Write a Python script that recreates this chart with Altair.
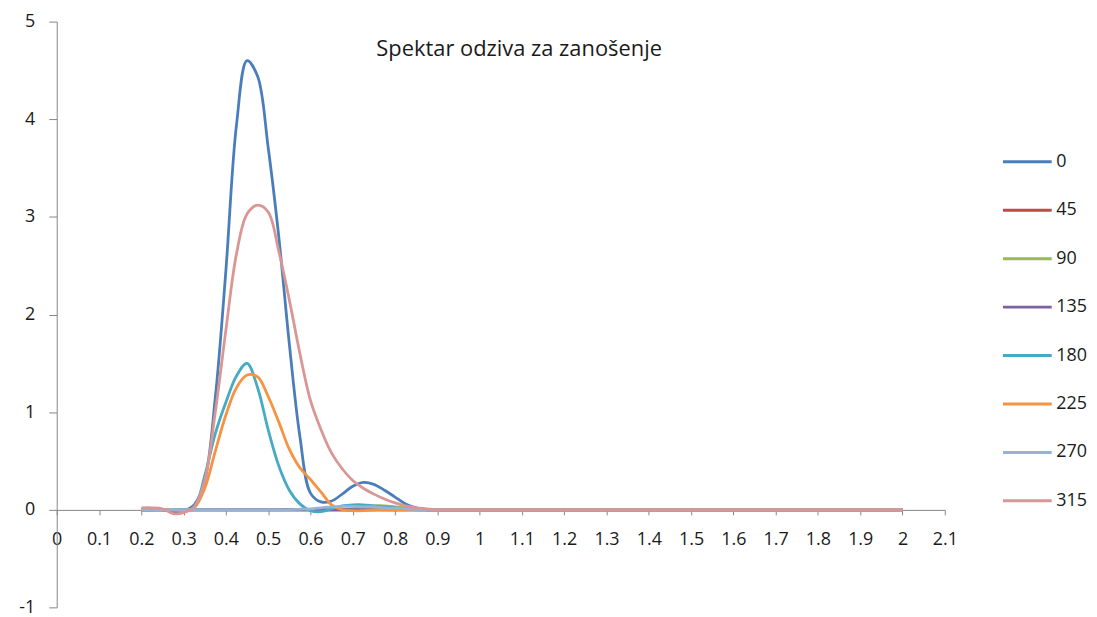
import altair as alt
import pandas as pd

# x positions (period, s)
x_vals = [0.2, 0.225, 0.25, 0.275, 0.3, 0.325, 0.35, 0.375, 0.4, 0.425, 0.45, 0.475,
          0.5, 0.525, 0.55, 0.575, 0.6, 0.625, 0.65, 0.675, 0.7, 0.725, 0.75, 0.775,
          0.8, 0.825, 0.85, 0.875, 0.9, 0.925, 0.95, 0.975, 1.0,
          1.1, 1.2, 1.3, 1.4, 1.5, 1.6, 1.7, 1.8, 1.9, 2.0]

tail = [0.0] * 10

s0 = [0.0, 0.0, 0.0, -0.02, -0.01, 0.05, 0.3, 1.15, 2.45, 3.94, 4.6, 4.44,
      3.71, 2.8, 1.7, 0.75, 0.17, 0.08, 0.09, 0.16, 0.24, 0.28, 0.26, 0.2,
      0.13, 0.06, 0.02, 0.0, 0.0, 0.0, 0.0, 0.0, 0.0] + tail
s45 = [0.0] * 33 + tail
s90 = [0.0] * 20 + [0.01, 0.03, 0.04, 0.04, 0.03, 0.02, 0.01, 0.0, 0.0, 0.0, 0.0, 0.0, 0.0] + tail
s135 = [0.0] * 33 + tail
s180 = [0.0, 0.0, 0.0, 0.0, 0.0, 0.02, 0.35, 0.78, 1.1, 1.37, 1.5, 1.25,
        0.82, 0.45, 0.2, 0.06, -0.01, -0.02, 0.01, 0.04, 0.05, 0.05, 0.04, 0.03,
        0.02, 0.01, 0.0, 0.0, 0.0, 0.0, 0.0, 0.0, 0.0] + tail
s225 = [0.0, 0.0, 0.0, 0.0, -0.01, 0.02, 0.22, 0.6, 0.97, 1.25, 1.38, 1.36,
        1.16, 0.9, 0.62, 0.43, 0.31, 0.18, 0.05, 0.0, -0.01, -0.01, 0.0, 0.0,
        0.0, 0.0, 0.0, 0.0, 0.0, 0.0, 0.0, 0.0, 0.0] + tail
s270 = [0.0] * 15 + [0.005, 0.01, 0.02, 0.03, 0.035, 0.035, 0.03, 0.03, 0.02,
                     0.015, 0.01, 0.0, 0.0, 0.0, 0.0, 0.0, 0.0, 0.0] + tail
s315 = [0.02, 0.02, 0.01, -0.04, -0.03, 0.03, 0.3, 1.0, 1.84, 2.62, 3.03, 3.12,
        3.05, 2.65, 2.15, 1.6, 1.12, 0.82, 0.58, 0.42, 0.3, 0.22, 0.16, 0.11,
        0.07, 0.04, 0.02, 0.01, 0.0, 0.0, 0.0, 0.0, 0.0] + tail

series_names = ["0", "45", "90", "135", "180", "225", "270", "315"]
series_vals = [s0, s45, s90, s135, s180, s225, s270, s315]
series_colors = ["#4A7EBB", "#BE4B48", "#98B954", "#7D60A0", "#46AAC5", "#F69240", "#95B3D7", "#D99694"]

x_ticks = [round(i * 0.1, 1) for i in range(22)]
y_ticks = [-1, 0, 1, 2, 3, 4, 5]

title_text = "Spektar odziva za zanošenje"

rows = []
for order, (name, vals) in enumerate(zip(series_names, series_vals)):
    for xv, yv in zip(x_vals, vals):
        rows.append({"T": xv, "S": yv, "series": name, "ord": order})
df = pd.DataFrame(rows)

FONT = "Open Sans"
GREY = "#868686"
TXT = "#1a1a1a"

lines = alt.Chart(df).mark_line(interpolate="catmull-rom", strokeWidth=2.8).encode(
    x=alt.X("T:Q",
            scale=alt.Scale(domain=[0, 2.1], nice=False, zero=False),
            axis=alt.Axis(values=x_ticks, format="~g", title=None, grid=False,
                          offset=-98, domainColor=GREY, tickColor=GREY, tickSize=5,
                          labelFontSize=18, labelFont=FONT, labelColor=TXT,
                          labelPadding=16, labelFlush=False, labelOverlap=False)),
    y=alt.Y("S:Q",
            scale=alt.Scale(domain=[-1, 5], nice=False, zero=False),
            axis=alt.Axis(values=y_ticks, title=None, grid=False,
                          labelExpr="datum.value + ''",
                          domainColor=GREY, tickColor=GREY, tickSize=8,
                          labelFontSize=18, labelFont=FONT, labelColor=TXT,
                          labelPadding=14, labelFlush=False, labelOverlap=False)),
    color=alt.Color("series:N",
                    scale=alt.Scale(domain=series_names, range=series_colors),
                    sort=series_names,
                    legend=alt.Legend(title=None, orient="none", legendX=950, legendY=115,
                                      symbolType="stroke", symbolSize=2400,
                                      symbolStrokeWidth=3, labelFontSize=18,
                                      labelFont=FONT, labelColor=TXT,
                                      labelOffset=3, rowPadding=13.7)),
    order=alt.Order("ord:Q"),
    detail="series:N",
)

title = alt.Chart(pd.DataFrame({"t": [title_text]})).mark_text(
    font=FONT, fontSize=22, color=TXT, align="center", baseline="middle"
).encode(text="t:N", x=alt.value(465), y=alt.value(28))

chart = alt.layer(lines, title).properties(
    width=893, height=589,
    autosize=alt.AutoSizeParams(type="none"),
    padding={"left": 49, "top": 12, "right": 145, "bottom": 9},
).configure_view(stroke=None)

chart.save("out.html", embed_options={"renderer": "svg", "actions": False})
